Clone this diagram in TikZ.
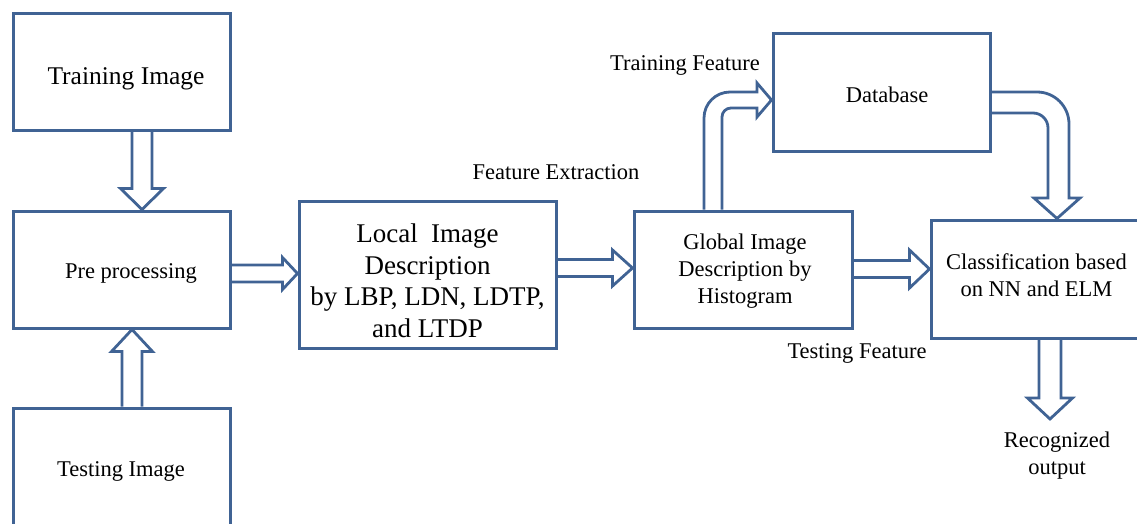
\documentclass[tikz,border=0pt]{standalone}
\usepackage{fontspec}
\setmainfont{Liberation Serif}
\usetikzlibrary{calc}
\definecolor{bc}{RGB}{64,99,148}
\pgfdeclarelayer{background}
\pgfsetlayers{background,main}
\newcommand\blkright[5]{\filldraw[blk] ($(#1)+(0,-#3)$) -- ($(#2)+(-#5,-#3)$) -- ($(#2)+(-#5,-#4)$) -- (#2) -- ($(#2)+(-#5,#4)$) -- ($(#2)+(-#5,#3)$) -- ($(#1)+(0,#3)$);}
\newcommand\blkdown[5]{\filldraw[blk] ($(#1)+(-#3,0)$) -- ($(#2)+(-#3,-#5)$) -- ($(#2)+(-#4,-#5)$) -- (#2) -- ($(#2)+(#4,-#5)$) -- ($(#2)+(#3,-#5)$) -- ($(#1)+(#3,0)$);}
\newcommand\blkup[5]{\filldraw[blk] ($(#1)+(-#3,0)$) -- ($(#2)+(-#3,#5)$) -- ($(#2)+(-#4,#5)$) -- (#2) -- ($(#2)+(#4,#5)$) -- ($(#2)+(#3,#5)$) -- ($(#1)+(#3,0)$);}
\begin{document}
\begin{tikzpicture}[x=1pt,y=-1pt,
  box/.style={draw=bc,line width=3pt,inner sep=0pt},
  txt/.style={inner sep=0pt,align=center,font=\fontsize{22.5}{27}\selectfont},
  blk/.style={draw=bc,line width=2.8pt,fill=white,line join=miter}]
\useasboundingbox (0,0) rectangle (1137,523);
% boxes
\node[box,minimum width=217,minimum height=117] (train) at (121.5,71.5) {};
\node[box,minimum width=217,minimum height=117] (pre) at (121.5,269.5) {};
\node[box,minimum width=217,minimum height=120] (test) at (121.5,468) {};
\node[box,minimum width=257,minimum height=147] (loc) at (427.5,274.5) {};
\node[box,minimum width=218,minimum height=117] (gl) at (743,269.5) {};
\node[box,minimum width=217,minimum height=118] (db) at (881.5,92) {};
\node[box,minimum width=219,minimum height=118] (cls) at (1040.5,279) {};
% texts
\node[txt,font=\fontsize{25.5}{30}\selectfont] (ttrain) at (126,79) {Training Image};
\node[txt] (tpre) at (131,273) {Pre processing};
\node[txt] (ttest) at (121,471) {Testing Image};
\node[txt,font=\fontsize{27}{31.5}\selectfont] (tloc) at (427.5,281) {Local\ \ Image\\Description\\by LBP, LDN, LDTP,\\and LTDP};
\node[txt] (tgl) at (745,271.5) {Global Image\\Description by\\Histogram};
\node[txt] (tdb) at (887,95) {Database};
\node[txt] (tcls) at (1036.5,275.5) {Classification based\\on NN and ELM};
\node[txt] (lfe) at (556,172.5) {Feature Extraction};
\node[txt] (ltf) at (685,65) {Training Feature};
\node[txt] (lsf) at (857,353) {Testing Feature};
\node[txt] (lout) at (1057,456) {Recognized\\output};
% connectors
\coordinate (a1s) at (train.south -| 142,0);
\coordinate (a1t) at (pre.north -| 142,0);
\coordinate (a2s) at (test.north -| 132,0);
\coordinate (a2t) at (pre.south -| 132,0);
\coordinate (a3s) at (pre.east |- 0,273.5);
\coordinate (a3t) at (loc.west |- 0,273.5);
\coordinate (a4s) at (loc.east |- 0,268);
\coordinate (a4t) at (gl.west |- 0,268);
\coordinate (a5s) at (gl.east |- 0,269);
\coordinate (a5t) at (cls.west |- 0,269);
\coordinate (a6s) at (cls.south -| 1050,0);
\coordinate (outp) at (1050,419);
\begin{pgfonlayer}{background}
\blkdown{a1s}{a1t}{10}{21.5}{21}
\blkup{a2s}{a2t}{10}{20.5}{22}
\blkright{a3s}{a3t}{8.5}{16}{15}
\blkright{a4s}{a4t}{8.5}{18}{20}
\blkright{a5s}{a5t}{8.5}{19}{20}
\blkdown{a6s}{outp}{11}{22.5}{21}
\filldraw[blk] (gl.north -| 704,0) -- (704,118) .. controls (704,103.6) and (715.6,92) .. (730,92) -- (757,92) -- (757,83) -- (db.west |- 0,100) -- (757,117) -- (757,108) -- (731,108) .. controls (726,108) and (722,112) .. (722,117) -- (gl.north -| 722,0);
\filldraw[blk] (db.east |- 0,92) -- (1037,92) .. controls (1054.7,92) and (1069,106.3) .. (1069,124) -- (1069,198) -- (1080,198) -- (cls.north -| 1057,0) -- (1034,198) -- (1048,198) -- (1048,128) .. controls (1048,119.7) and (1041.3,113) .. (1033,113) -- (db.east |- 0,113);
\end{pgfonlayer}
\end{tikzpicture}
\end{document}
